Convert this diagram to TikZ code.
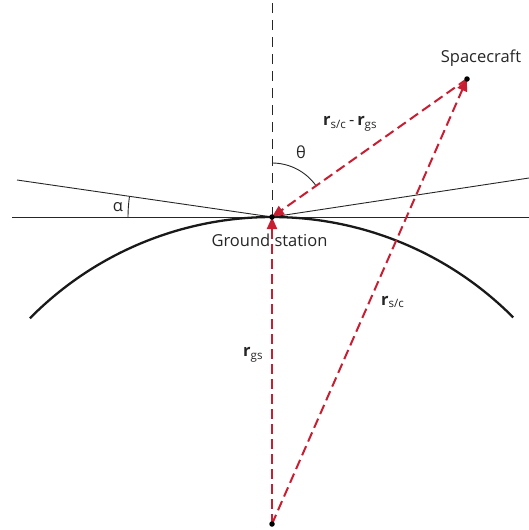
\documentclass[tikz,border=0pt]{standalone}
\usepackage{fontspec}
\setmainfont{Open Sans}
\usetikzlibrary{arrows.meta,angles}
\definecolor{vecred}{RGB}{200,30,50}
\tikzset{
  thinline/.style={draw=black!85, line width=0.9pt},
  vec/.style={draw=vecred, line width=2pt, dash pattern=on 10pt off 5pt, -{Triangle[length=12pt,width=10pt]}},
  dotnode/.style={circle, fill=black, inner sep=0pt, minimum size=5.5pt},
  lbl/.style={font=\fontsize{16.5}{18}\selectfont, inner sep=0pt, text=black!85},
}
\begin{document}
\begin{tikzpicture}[x=1pt,y=-1pt]
\useasboundingbox (0,0) rectangle (529,530);
% reference points
\coordinate (gs) at (272,217);
\coordinate (sc) at (467,79);
\coordinate (ctr) at (272,524);
\coordinate (top) at (272,0);
\coordinate (hl) at (12,217);
\coordinate (hr) at (529,217);
\coordinate (sl) at (17,180);
\coordinate (sr) at (529,178);
% lines
\draw[thinline] (hl) -- (hr);
\draw[thinline] (sl) -- (gs) -- (sr);
\draw[thinline, dash pattern=on 10pt off 7pt] (gs) -- (top);
% earth
\draw[line width=2.3pt, black!90] ([shift={(272,557)}]-135.4:340) arc[start angle=-135.4, end angle=-44.8, radius=340];
% angles
\pic[draw=black!85, line width=0.9pt, angle radius=54pt] {angle = sc--gs--top};
\pic[draw=black!85, line width=0.9pt, angle radius=144pt] {angle = sl--gs--hl};
% vectors
\draw[vec] (ctr) -- (gs);
\draw[vec] (ctr) -- (sc);
\draw[vec] (sc) -- (gs);
% dots
\node[dotnode] (gsdot) at (gs) {};
\node[dotnode] (scdot) at (sc) {};
\node[dotnode] (ctrdot) at (ctr) {};
% labels
\node[lbl] (gslbl) at (269.5,240) {Ground station};
\node[lbl] (sclbl) at (481,58) {Spacecraft};
\node[lbl] (theta) at (301,152) {θ};
\node[lbl] (alpha) at (118,207) {α};
\node[lbl, anchor=west] (rdiff) at (323,124) {\textbf{r}\textsubscript{s/c}\,-\,\textbf{r}\textsubscript{gs}};
\node[lbl, anchor=west] (rsc) at (381,302) {\textbf{r}\textsubscript{s/c}};
\node[lbl, anchor=west] (rgs) at (243,355) {\textbf{r}\textsubscript{gs}};
\end{tikzpicture}
\end{document}
